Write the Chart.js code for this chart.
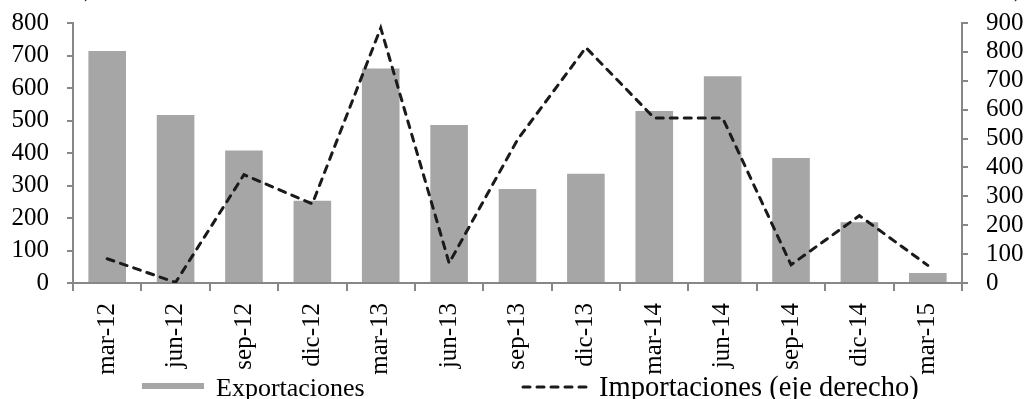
<!DOCTYPE html>
<html>
<head>
<meta charset="utf-8">
<script src="https://cdn.jsdelivr.net/npm/chart.js@4.4.0/dist/chart.umd.min.js"></script>
<style>
  body { margin: 0; background: #fff; }
  #wrap { position: relative; width: 1028px; height: 399px; font-family: "Liberation Serif", "Times New Roman", serif; }
  .leg { position: absolute; white-space: nowrap; color: #000; line-height: 1; }
  .leg-box { position: absolute; background: #a6a6a6; }
</style>
</head>
<body>
<div id="wrap">
  <canvas id="chart" width="1028" height="399"></canvas>
  <div class="leg-box" style="left:142px; top:383px; width:62px; height:6px;"></div>
  <div class="leg" id="leg1" style="left:216px; top:375px; font-size:26px;">Exportaciones</div>
  <svg style="position:absolute; left:521px; top:382px;" width="72" height="10">
    <line x1="2" y1="5" x2="70" y2="5" stroke="#1a1a1a" stroke-width="3" stroke-dasharray="7 7" stroke-linecap="round"/>
  </svg>
  <div class="leg" id="leg2" style="left:599px; top:373px; font-size:28.5px;">Importaciones (eje derecho)</div>
</div>
<script>
// ===== Data =====
const categories = ["mar-12", "jun-12", "sep-12", "dic-12", "mar-13", "jun-13", "sep-13",
  "dic-13", "mar-14", "jun-14", "sep-14", "dic-14", "mar-15"];
const exportaciones = [714, 517, 408, 253, 660, 486, 289, 336, 529, 636, 385, 187, 31];
const importaciones = [84, 2, 375, 274, 883, 69, 496, 815, 571, 571, 63, 233, 61];
const leftMax = 800;
const rightMax = 900;
const tickStep = 100;

const axisColor = "#878787";
const tickFont = { family: "'Liberation Serif', 'Times New Roman', serif", size: 25 };

// cut-off unit labels at the very top
const topMarks = {
  id: "topMarks",
  afterDraw(chart) {
    const ctx = chart.ctx;
    ctx.save();
    ctx.font = "25px 'Liberation Serif', serif";
    ctx.fillStyle = "#000";
    ctx.textBaseline = "alphabetic";
    ctx.fillText(")", 84, -4);
    ctx.fillText(")", 1014, -4);
    ctx.restore();
  }
};

// fixed axis widths, no extra padding above/below from the tick labels
function fitY(width) {
  return s => {
    s.width = width;
    s.paddingTop = 0;
    s.paddingBottom = 0;
  };
}

new Chart(document.getElementById("chart"), {
  data: {
    labels: categories,
    datasets: [
      {
        type: "line",
        label: "Importaciones (eje derecho)",
        data: importaciones,
        yAxisID: "y1",
        borderColor: "#1a1a1a",
        borderWidth: 3,
        borderDash: [7, 7],
        borderCapStyle: "round",
        pointRadius: 0,
        tension: 0,
        fill: false,
        order: 1
      },
      {
        type: "bar",
        label: "Exportaciones",
        data: exportaciones,
        yAxisID: "y",
        backgroundColor: "#a6a6a6",
        borderWidth: 0,
        categoryPercentage: 1,
        barPercentage: 0.55,
        order: 2
      }
    ]
  },
  options: {
    responsive: false,
    animation: false,
    layout: { padding: { top: 23, left: 0, right: 0, bottom: 0 } },
    plugins: {
      legend: { display: false },
      tooltip: { enabled: false }
    },
    scales: {
      x: {
        offset: true,
        afterFit: s => { s.height = 399 - 283; },
        grid: { drawOnChartArea: false, color: axisColor, lineWidth: 2, tickLength: 8, offset: true },
        border: { color: axisColor, width: 2 },
        ticks: { font: tickFont, color: "#000", padding: 12, minRotation: 90, maxRotation: 90, autoSkip: false }
      },
      y: {
        position: "left",
        min: 0,
        max: leftMax,
        afterFit: fitY(73),
        grid: { drawOnChartArea: false, color: axisColor, lineWidth: 2, tickLength: 6 },
        border: { color: axisColor, width: 2 },
        ticks: { stepSize: tickStep, font: tickFont, color: "#000", padding: 18, autoSkip: false }
      },
      y1: {
        position: "right",
        min: 0,
        max: rightMax,
        afterFit: fitY(66),
        grid: { drawOnChartArea: false, color: axisColor, lineWidth: 2, tickLength: 6 },
        border: { color: axisColor, width: 2 },
        ticks: { stepSize: tickStep, font: tickFont, color: "#000", padding: 18, autoSkip: false }
      }
    }
  },
  plugins: [topMarks]
});
</script>
</body>
</html>
